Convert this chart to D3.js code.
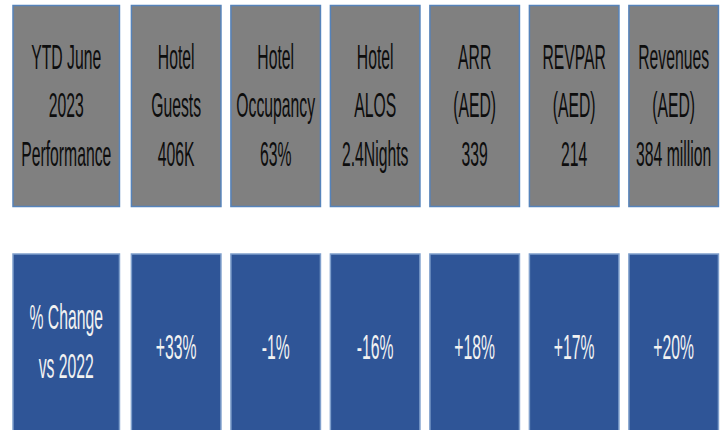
<!DOCTYPE html>
<html>
<head>
<meta charset="utf-8">
<script src="https://cdn.jsdelivr.net/npm/d3@7"></script>
<style>
  html, body { margin: 0; padding: 0; background: #ffffff; }
  svg { display: block; }
</style>
</head>
<body>
<div id="chart"></div>
<script>
// KPI tiles: YTD June 2023 hotel performance and % change vs 2022
const categories = ["Summary", "Hotel Guests", "Hotel Occupancy", "Hotel ALOS", "ARR", "REVPAR", "Revenues"];
const headerLines = [
  ["YTD June", "2023"],
  ["Hotel", "Guests"],
  ["Hotel", "Occupancy"],
  ["Hotel", "ALOS"],
  ["ARR", "(AED)"],
  ["REVPAR", "(AED)"],
  ["Revenues", "(AED)"]
];
const valueLabels = ["Performance", "406K", "63%", "2.4Nights", "339", "214", "384 million"];
const changeTitle = ["% Change", "vs 2022"];
const changePct = [null, 33, -1, -16, 18, 17, 20];

const W = 724, H = 430;
const svg = d3.select("#chart").append("svg").attr("width", W).attr("height", H);

// Column layout in "column units": the first (label) column is wider
const colStart = (i) => (i === 0 ? 0 : 1.19 + (i - 1));
const colWidth = (i) => (i === 0 ? 1.07 : 0.9);
const x = d3.scaleLinear().domain([0, 1]).range([13, 112.5]);

// Two tile rows
const rows = d3.scaleOrdinal().domain(["kpi", "change"]).range([[5.5, 206.5], [254, 434]]);

const fmt = d3.formatLocale({ decimal: ".", thousands: ",", grouping: [3], currency: ["", ""], minus: "-" }).format("+d");

// Tall, condensed lettering
const fontSize = 35, lineH = 48.5, capH = fontSize * 0.716, squeeze = 0.45;

function drawLines(g, lines, cx, cy, color) {
  const n = lines.length;
  lines.forEach((t, k) => {
    const base = cy + (k - (n - 1) / 2) * lineH + capH / 2;
    g.append("text")
      .attr("transform", `translate(${cx},${base}) scale(${squeeze},1)`)
      .attr("text-anchor", "middle")
      .attr("font-family", "'Liberation Sans', Arial, sans-serif")
      .attr("font-size", fontSize)
      .attr("fill", color)
      .text(t);
  });
}

// Top row: gray KPI tiles
const [t0, t1] = rows("kpi");
const kpiTiles = svg.append("g").selectAll("g").data(categories).join("g");
kpiTiles.each(function (d, i) {
  const g = d3.select(this);
  const x0 = x(colStart(i)), w = x(colWidth(i)) - x(0);
  g.append("rect")
    .attr("x", x0).attr("y", t0).attr("width", w).attr("height", t1 - t0)
    .attr("fill", "#808080").attr("stroke", "#5683ba").attr("stroke-width", 1.5);
  drawLines(g, headerLines[i].concat([valueLabels[i]]), x0 + w / 2, (t0 + t1) / 2 - 1.5, "#0d0d0d");
});

// Bottom row: blue change tiles
const [b0, b1] = rows("change");
const changeTiles = svg.append("g").selectAll("g").data(categories).join("g");
changeTiles.each(function (d, i) {
  const g = d3.select(this);
  const x0 = x(colStart(i)), w = x(colWidth(i)) - x(0);
  g.append("rect")
    .attr("x", x0).attr("y", b0).attr("width", w).attr("height", b1 - b0)
    .attr("fill", "#2f5597").attr("stroke", "#7f9fcc").attr("stroke-width", 1.5);
  const lines = i === 0 ? changeTitle : [fmt(changePct[i]) + "%"];
  drawLines(g, lines, x0 + w / 2, i === 0 ? 341 : 346, "#f2f2f2");
});
</script>
</body>
</html>
